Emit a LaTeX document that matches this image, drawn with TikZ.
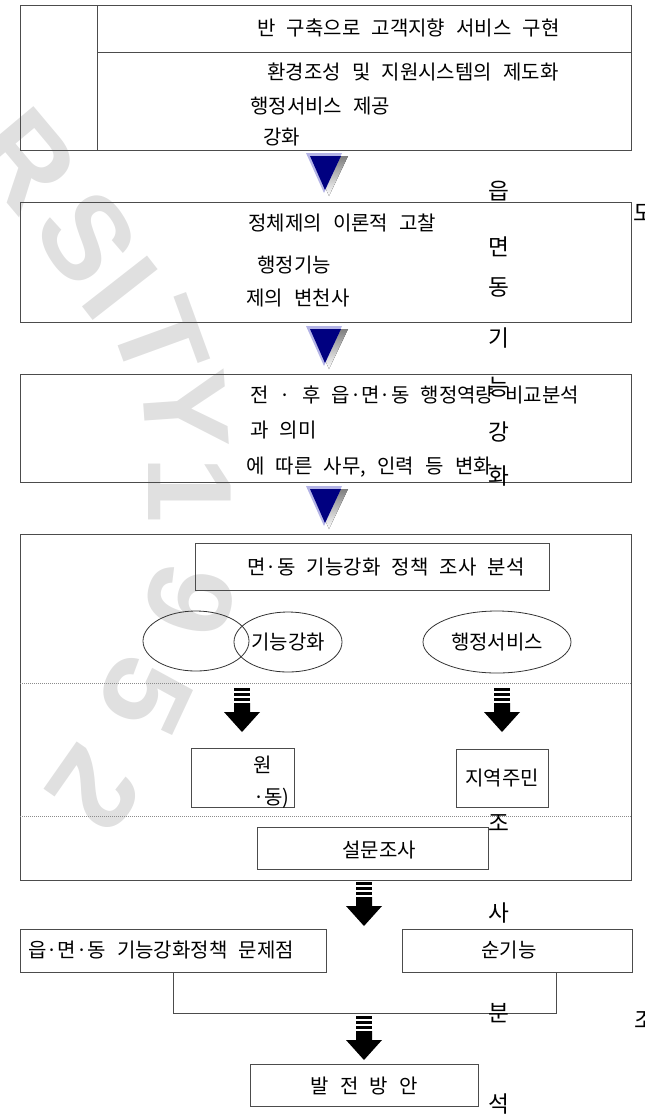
\documentclass[tikz,border=0pt]{standalone}
\usepackage{fontspec}
\setmainfont{Noto Sans CJK KR}[WordSpace=2.5]
\newfontfamily\wmfont{Liberation Sans}
\usepackage{tikz}
\usetikzlibrary{positioning,shapes,fit}

\definecolor{navy}{HTML}{000080}
\definecolor{lav}{HTML}{B4B4E6}
\definecolor{shade}{HTML}{A8A8A8}
\definecolor{wmgray}{HTML}{E0E0E0}

% blue triangle: centre x, top y
\newcommand{\navytri}[2]{%
  \fill[shade] (#1-12,#2+3) -- (#1+24,#2+3) -- (#1+5,#2+43) -- cycle;
  \fill[lav] (#1-18,#2) -- (#1+18,#2) -- (#1,#2+40) -- cycle;
  \fill[navy] (#1-14,#2+3) -- (#1+17,#2+3) -- (#1+1,#2+37) -- cycle;}

% black striped arrow: centre x, top y
\newcommand{\blkarrow}[2]{%
  \fill (#1-8,#2) rectangle (#1+8,#2+3);
  \fill (#1-8,#2+5) rectangle (#1+8,#2+8);
  \fill (#1-8,#2+10) rectangle (#1+8,#2+13);
  \fill (#1-8,#2+15) -- (#1+8,#2+15) -- (#1+8,#2+24) -- (#1+18,#2+24)
    -- (#1,#2+44) -- (#1-18,#2+24) -- (#1-8,#2+24) -- cycle;}

\begin{document}
\begin{tikzpicture}[x=0.75pt,y=-0.75pt,
  box/.style={draw=black!70,line width=0.75pt,inner sep=0},
  txt/.style={inner sep=0,anchor=west,font=\fontsize{15}{18}\selectfont},
  ctxt/.style={inner sep=0,font=\fontsize{15}{18}\selectfont},
  vch/.style={inner sep=0,font=\fontsize{17}{20}\selectfont},
  ell/.style={ellipse,draw=black!80,line width=0.6pt,inner sep=0,font=\fontsize{15}{18}\selectfont},
  dotln/.style={draw=black!45,line width=0.5pt,dash pattern=on 0.75pt off 0.75pt},
  wm/.style={text=wmgray,font=\wmfont\bfseries\fontsize{90}{90}\selectfont,inner sep=0}]

  \clip (0,0) rectangle (644,1118);

  % watermark
  \node[wm,rotate=-50] (w1) at (25,160) {R};
  \node[wm,rotate=-57] (w2) at (87,238) {S};
  \node[wm,rotate=-52] (w3) at (120,288) {I};
  \node[wm,rotate=-70] (w4) at (160,340) {T};
  \node[wm,rotate=-86] (w5) at (185,410) {Y};
  \node[wm,rotate=-90] (w6) at (190,490) {1};
  \node[wm,rotate=-105] (w7) at (190,600) {9};
  \node[wm,rotate=-115] (w8) at (145,695) {5};
  \node[wm,rotate=-125] (w9) at (95,790) {2};

  % step 1
  \node[box,fit={(20,5) (631,150)}] (b1) {};
  \draw[box] (97,5) -- (97,150);
  \draw[box] (97,52) -- (631,52);
  \node[txt] (t11) at (257,28) {반 구축으로 고객지향 서비스 구현};
  \node[txt] (t12) at (267,72) {환경조성 및 지원시스템의 제도화};
  \node[txt] (t13) at (250,106) {행정서비스 제공};
  \node[txt] (t14) at (263,137) {강화};
  \navytri{324}{153}

  % step 2
  \node[box,fit={(20,202) (631,322)}] (b2) {};
  \node[txt] (t21) at (248,223) {정체제의 이론적 고찰};
  \node[txt] (t22) at (257,265) {행정기능};
  \node[txt] (t23) at (246,298) {제의 변천사};
  \navytri{324}{326}

  % step 3
  \node[box,fit={(20,374) (631,482)}] (b3) {};
  \node[txt] (t31) at (250,395) {전 · 후 읍·면·동 행정역량 비교분석};
  \node[txt] (t32) at (250,430) {과 의미};
  \node[txt] (t33) at (246,467) {에 따른 사무, 인력 등 변화};
  \navytri{324}{486}

  % step 4
  \node[box,fit={(20,534) (631,880)}] (b4) {};
  \node[box,fit={(195,543) (549,590)}] (c0) {};
  \node[ctxt] (t40) at (386,567) {면·동 기능강화 정책 조사 분석};
  \node[ell,minimum width=79.5pt,minimum height=45pt] (e1) at (196,641) {};
  \node[ell,minimum width=81pt,minimum height=45pt] (e2) at (288,642) {기능강화};
  \node[ell,minimum width=111pt,minimum height=46.5pt] (e3) at (497,642) {행정서비스};
  \draw[dotln] (20,683) -- (631,683);
  \blkarrow{242}{688}
  \blkarrow{502}{688}
  \node[box,fit={(191,748) (294,807)}] (c1) {};
  \node[ctxt] (t41) at (263,765) {원};
  \node[txt] (t42) at (253,798) {·동)};
  \node[box,fit={(456,749) (548,807)}] (c2) {};
  \node[ctxt] (t43) at (502,778) {지역주민};
  \draw[dotln] (20,816) -- (631,816);
  \node[box,fit={(257,827) (488,869)}] (c3) {};
  \node[ctxt] (t44) at (379,850) {설문조사};
  \blkarrow{364}{882}

  % results
  \node[box,fit={(20,929) (326,972)}] (p1) {};
  \node[txt] (t51) at (28,950) {읍·면·동 기능강화정책 문제점};
  \node[box,fit={(402,929) (632,972)}] (p2) {};
  \node[ctxt] (t52) at (509,950) {순기능};
  \coordinate (j) at (556,1013);
  \draw[box] (p1.south) |- (j) -- (j |- p2.south);
  \blkarrow{364}{1016}
  \node[box,fit={(250,1064) (478,1106)}] (p3) {};
  \node[ctxt] (t53) at (364,1086) {발 전 방 안};

  % overflow column
  \foreach \ch/\yy [count=\i] in {읍/191,면/247,동/287,기/338,능/387,강/432,화/476,조/823,사/913,분/1013,석/1104}
    \node[vch] (v\i) at (499,\yy) {\ch};
  \node[vch,anchor=west] (r1) at (633,213) {도};
  \node[vch,anchor=west] (r2) at (634,1020) {조};

\end{tikzpicture}
\end{document}
